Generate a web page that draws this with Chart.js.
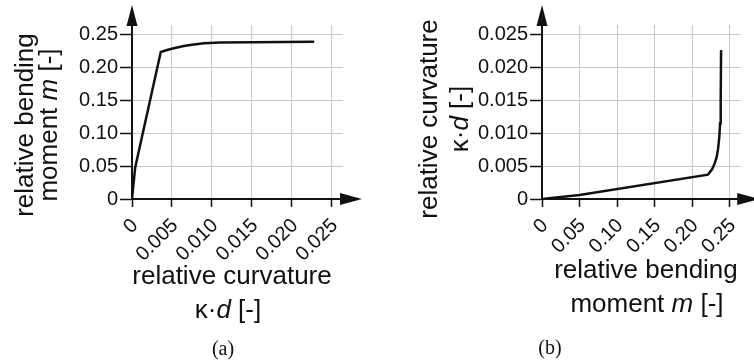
<!DOCTYPE html>
<html>
<head>
<meta charset="utf-8">
<script src="https://cdn.jsdelivr.net/npm/chart.js@4/dist/chart.umd.min.js"></script>
<style>
  body { margin: 0; width: 754px; height: 362px; overflow: hidden; position: relative; background: #fff; }
  canvas { position: absolute; top: 0; }
  .t { position: absolute; font-family: "Liberation Sans", Arial, sans-serif; font-size: 26px; line-height: 30px;
       white-space: nowrap; color: #111; transform: translate(-50%, -50%); }
  .r { transform: translate(-50%, -50%) rotate(-90deg); }
  .cap { position: absolute; font-family: "Liberation Serif", "Times New Roman", serif; font-size: 20px; line-height: 24px;
         color: #111; transform: translate(-50%, -50%); }
</style>
</head>
<body>
<canvas id="chartA" width="380" height="362" style="left:0"></canvas>
<canvas id="chartB" width="374" height="362" style="left:380px"></canvas>

<!-- axis titles (a) -->
<div class="t r" style="left:24px; top:125px">relative bending</div>
<div class="t r" style="left:48px; top:125px">moment <i>m</i> [-]</div>
<div class="t" style="left:232px; top:275px">relative curvature</div>
<div class="t" style="left:228px; top:309px">κ·<i>d</i> [-]</div>
<div class="cap" style="left:223px; top:348px">(a)</div>

<!-- axis titles (b) -->
<div class="t r" style="left:428px; top:119px">relative curvature</div>
<div class="t r" style="left:459px; top:119px">κ·<i>d</i> [-]</div>
<div class="t" style="left:646px; top:269px">relative bending</div>
<div class="t" style="left:647px; top:303px">moment <i>m</i> [-]</div>
<div class="cap" style="left:550px; top:347px">(b)</div>

<script>
// (a) moment vs curvature
const kappaA  = [0, 0.0004, 0.0036, 0.0045, 0.0055, 0.0065, 0.0075, 0.009, 0.011, 0.015, 0.0228];
const momentA = [0, 0.048, 0.223, 0.2265, 0.2295, 0.232, 0.234, 0.2362, 0.2373, 0.238, 0.2385];

// (b) curvature vs moment
const momentB = [0, 0.05, 0.221, 0.2265, 0.23, 0.2325, 0.2345, 0.2362, 0.2372, 0.238, 0.2385];
const kappaB  = [0, 0.0006, 0.0037, 0.0045, 0.0054, 0.0063, 0.0076, 0.0095, 0.0115, 0.015, 0.0226];

const momentTicks  = [0, 0.05, 0.10, 0.15, 0.20, 0.25];
const momentLabels = ['0', '0.05', '0.10', '0.15', '0.20', '0.25'];
const kappaTicks   = [0, 0.005, 0.010, 0.015, 0.020, 0.025];
const kappaLabels  = ['0', '0.005', '0.010', '0.015', '0.020', '0.025'];
const momentMax = 0.264;
const kappaMax = 0.0264;

Chart.defaults.font.family = '"Liberation Sans", Arial, sans-serif';
Chart.defaults.color = '#111';

const arrows = {
    id: 'arrows',
    afterDraw(chart) {
        const { ctx, chartArea: a } = chart;
        ctx.save();
        ctx.fillStyle = '#111';
        ctx.beginPath();
        ctx.moveTo(a.left, a.top - 20);
        ctx.lineTo(a.left - 5.5, a.top + 1);
        ctx.lineTo(a.left + 5.5, a.top + 1);
        ctx.closePath();
        ctx.fill();
        ctx.beginPath();
        ctx.moveTo(a.right + 19, a.bottom);
        ctx.lineTo(a.right - 3, a.bottom - 6);
        ctx.lineTo(a.right - 3, a.bottom + 6);
        ctx.closePath();
        ctx.fill();
        ctx.restore();
    }
};

function axis(ticks, labels, max, tickLength, rotate, fix) {
    return {
        type: 'linear',
        min: 0,
        max: max,
        afterBuildTicks: s => { s.ticks = ticks.map(v => ({ value: v })); },
        afterFit: fix,
        border: { color: '#111', width: 2 },
        grid: { color: '#c8c8c8', lineWidth: 1, tickColor: '#111', tickWidth: 1.5, tickLength: tickLength },
        ticks: {
            autoSkip: false,
            includeBounds: false,
            padding: rotate ? 7 : 2,
            labelOffset: rotate ? 3 : 0,
            minRotation: rotate ? 45 : 0,
            maxRotation: rotate ? 45 : 0,
            font: { size: 20 },
            color: '#111',
            callback: (v, i) => labels[i]
        }
    };
}

function makeChart(id, xs, ys, xTicks, xLabels, xMax, yTicks, yLabels, yMax, yWidth, padRight) {
    new Chart(document.getElementById(id), {
        type: 'line',
        data: {
            datasets: [{
                data: xs.map((x, i) => ({ x: x, y: ys[i] })),
                borderColor: '#111',
                borderWidth: 2.5,
                pointRadius: 0,
                tension: 0,
                fill: false
            }]
        },
        options: {
            responsive: false,
            animation: false,
            events: [],
            layout: { padding: { top: 25, right: padRight, left: 0, bottom: 0 } },
            plugins: { legend: { display: false }, tooltip: { enabled: false } },
            scales: {
                x: axis(xTicks, xLabels, xMax, 8, true, s => { s.height = 163; }),
                y: axis(yTicks, yLabels, yMax, 12, false, s => { s.width = yWidth; })
            }
        },
        plugins: [arrows]
    });
}

makeChart('chartA', kappaA, momentA, kappaTicks, kappaLabels, kappaMax, momentTicks, momentLabels, momentMax, 132, 37);
makeChart('chartB', momentB, kappaB, momentTicks, momentLabels, momentMax, kappaTicks, kappaLabels, kappaMax, 162, 6);
</script>
</body>
</html>
